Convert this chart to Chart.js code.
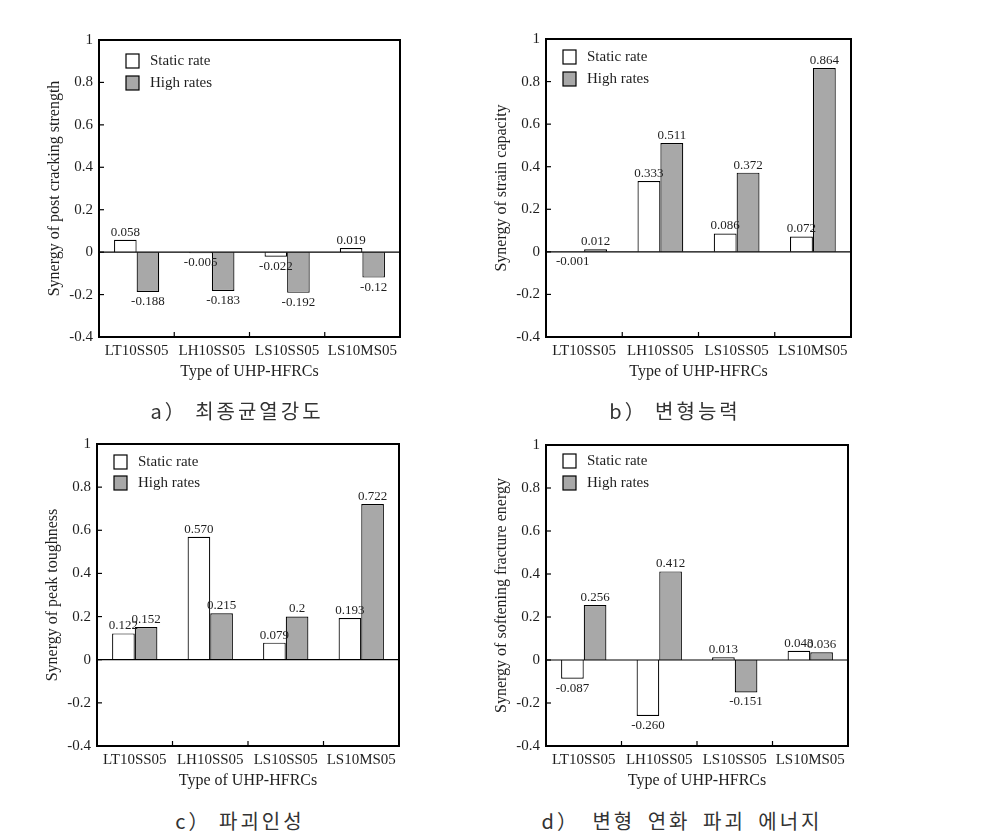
<!DOCTYPE html>
<html>
<head>
<meta charset="utf-8">
<script src="https://cdn.jsdelivr.net/npm/chart.js@4/dist/chart.umd.min.js"></script>
<style>
  body { margin: 0; background: #fff; width: 993px; height: 833px; position: relative; overflow: hidden; }
  canvas { position: absolute; }
  .cap { position: absolute; transform: translate(-50%, -50%); font-family: "Noto Sans CJK KR", sans-serif;
         font-size: 20px; letter-spacing: 3px; color: #333; white-space: nowrap; }
</style>
</head>
<body>
<canvas id="ca"></canvas>
<canvas id="cb"></canvas>
<canvas id="cc"></canvas>
<canvas id="cd"></canvas>
<div class="cap" style="left:237px; top:410px">a） 최종균열강도</div>
<div class="cap" style="left:675px; top:410px">b） 변형능력</div>
<div class="cap" style="left:240px; top:820px">c） 파괴인성</div>
<div class="cap" style="left:682px; top:820px; word-spacing:5px">d） 변형 연화 파괴 에너지</div>
<script>
const categories = ['LT10SS05', 'LH10SS05', 'LS10SS05', 'LS10MS05'];
const seriesNames = ['Static rate', 'High rates'];

// values kept as text so the printed labels match the figure (0.570, 0.2 ...)
const staticA = ['0.058', '-0.005', '-0.022', '0.019'];
const highA   = ['-0.188', '-0.183', '-0.192', '-0.12'];
const staticB = ['-0.001', '0.333', '0.086', '0.072'];
const highB   = ['0.012', '0.511', '0.372', '0.864'];
const staticC = ['0.122', '0.570', '0.079', '0.193'];
const highC   = ['0.152', '0.215', '0.2', '0.722'];
const staticD = ['-0.087', '-0.260', '0.013', '0.043'];
const highD   = ['0.256', '0.412', '-0.151', '0.036'];

const yMin = -0.4, yMax = 1, yStep = 0.2;
const yTitles = [
  'Synergy of post cracking strength',
  'Synergy of strain capacity',
  'Synergy of peak toughness',
  'Synergy of softening fracture energy'
];
const xTitle = 'Type of UHP-HFRCs';

const SERIF = '"Liberation Serif", "Times New Roman", serif';
const INK = '#1e1e1e';

function line(ctx, x1, y1, x2, y2) {
  ctx.beginPath(); ctx.moveTo(x1, y1); ctx.lineTo(x2, y2); ctx.stroke();
}

const framePlugin = {
  id: 'frame',
  afterDatasetsDraw(chart, args, opts) {
    const { ctx, chartArea: a, scales: { x, y } } = chart;
    ctx.save();
    ctx.strokeStyle = '#000';

    // zero line
    ctx.lineWidth = 1.2;
    const y0 = y.getPixelForValue(0);
    line(ctx, a.left, y0, a.right, y0);

    // inward ticks
    y.ticks.forEach((t, i) => {
      const py = y.getPixelForTick(i);
      line(ctx, a.left, py, a.left + 5, py);
    });
    for (let i = 1; i < x.ticks.length; i++) {
      const px = (x.getPixelForTick(i - 1) + x.getPixelForTick(i)) / 2;
      line(ctx, px, a.bottom, px, a.bottom - 5);
    }

    // box
    ctx.lineWidth = 2;
    ctx.strokeRect(a.left, a.top, a.width, a.height);

    // value labels
    ctx.fillStyle = INK;
    ctx.font = '13px ' + SERIF;
    ctx.textAlign = 'center';
    chart.data.datasets.forEach((ds, di) => {
      chart.getDatasetMeta(di).data.forEach((bar, i) => {
        const v = ds.data[i];
        if (v >= 0) {
          ctx.textBaseline = 'bottom';
          ctx.fillText(ds.valueText[i], bar.x, bar.y - 1);
        } else {
          ctx.textBaseline = 'top';
          ctx.fillText(ds.valueText[i], bar.x, bar.y + 3);
        }
      });
    });

    // legend inside plot
    ctx.font = '15px ' + SERIF;
    ctx.textAlign = 'left';
    ctx.textBaseline = 'middle';
    ctx.lineWidth = 1.2;
    chart.data.datasets.forEach((ds, di) => {
      const bx = a.left + opts.dx;
      const by = a.top + opts.dy + di * opts.gap;
      ctx.fillStyle = ds.backgroundColor;
      ctx.fillRect(bx, by - 7, 13, 14);
      ctx.strokeRect(bx, by - 7, 13, 14);
      ctx.fillStyle = INK;
      ctx.fillText(ds.label, bx + 24, by);
    });
    ctx.restore();
  }
};

function makePanel(id, plot, legend, yTitle, staticVals, highVals) {
  const cv = document.getElementById(id);
  const padL = 70, padT = 20, padR = 30, padB = 55;
  cv.width = plot.r - plot.l + padL + padR;
  cv.height = plot.b - plot.t + padT + padB;
  cv.style.left = (plot.l - padL) + 'px';
  cv.style.top = (plot.t - padT) + 'px';

  new Chart(cv, {
    type: 'bar',
    data: {
      labels: categories,
      datasets: [
        { label: seriesNames[0], data: staticVals.map(Number), valueText: staticVals,
          backgroundColor: '#ffffff', borderColor: '#000', borderWidth: 1.2 },
        { label: seriesNames[1], data: highVals.map(Number), valueText: highVals,
          backgroundColor: '#a8a8a8', borderColor: '#000', borderWidth: 1.2 }
      ]
    },
    options: {
      responsive: false,
      animation: false,
      layout: { padding: { left: 0, top: padT, right: padR, bottom: 0 } },
      categoryPercentage: 0.6,
      barPercentage: 1,
      plugins: {
        legend: { display: false },
        tooltip: { enabled: false },
        frame: legend
      },
      scales: {
        x: {
          grid: { display: false, drawTicks: false },
          border: { display: false },
          ticks: { color: INK, font: { family: SERIF, size: 15 }, padding: 5, maxRotation: 0, autoSkip: false },
          title: { display: true, text: xTitle, color: INK, font: { family: SERIF, size: 16 },
                   padding: { top: 0, bottom: 10.4 } },
          afterFit: s => { s.height = padB; }
        },
        y: {
          min: yMin, max: yMax,
          grid: { display: false, drawTicks: false },
          border: { display: false },
          ticks: { stepSize: yStep, color: INK, font: { family: SERIF, size: 15 }, padding: 6,
                   callback: v => String(Math.round(v * 10) / 10) },
          title: { display: true, text: yTitle, color: INK, font: { family: SERIF, size: 16 },
                   padding: { top: 16.4, bottom: 0 } },
          afterFit: s => { s.width = padL; }
        }
      }
    },
    plugins: [framePlugin]
  });
}

makePanel('ca', { l: 99, t: 40, r: 400, b: 337 }, { dx: 27, dy: 21, gap: 22 }, yTitles[0], staticA, highA);
makePanel('cb', { l: 546, t: 39, r: 851, b: 337 }, { dx: 17, dy: 18, gap: 22 }, yTitles[1], staticB, highB);
makePanel('cc', { l: 97, t: 444, r: 399, b: 746 }, { dx: 17, dy: 18, gap: 21 }, yTitles[2], staticC, highC);
makePanel('cd', { l: 546, t: 445, r: 848, b: 746 }, { dx: 17, dy: 16, gap: 22 }, yTitles[3], staticD, highD);
</script>
</body>
</html>
